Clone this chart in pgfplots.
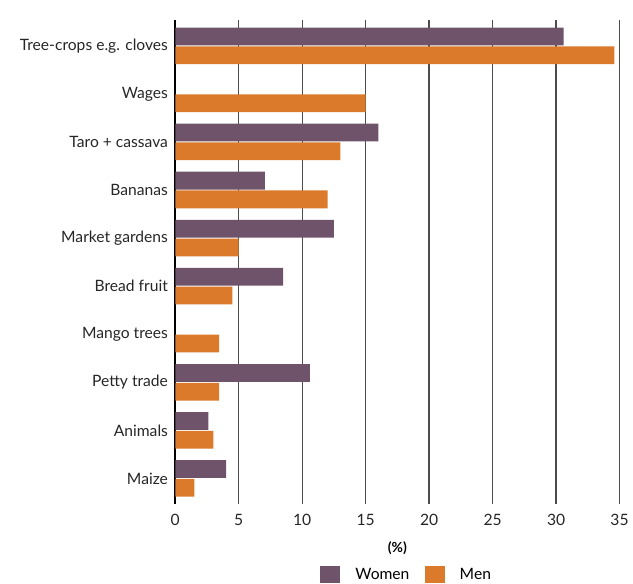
\documentclass[border=0pt]{standalone}
\usepackage{pgfplots}
\pgfplotsset{compat=1.18}
\usepackage{fontspec}
\setmainfont{Lato}
\definecolor{women}{HTML}{6F536B}
\definecolor{men}{HTML}{DA7A2A}
\begin{document}
\begin{tikzpicture}
\begin{axis}[
  name=a,
  scale only axis,
  width=335.6pt, height=366pt,
  xmin=0, xmax=35,
  ymin=-0.54, ymax=9.54,
  y dir=reverse,
  xbar,
  bar width=0.37,
  xtick={0,5,...,35},
  ytick={0,...,9},
  yticklabels={Tree-crops e.g. cloves,Wages,Taro + cassava,Bananas,Market gardens,Bread fruit,Mango trees,Petty trade,Animals,Maize},
  xmajorgrids,
  major grid style={black!70, line width=1pt},
  axis x line*=bottom,
  axis y line*=left,
  x axis line style={draw=none},
  y axis line style={black, line width=1.5pt},
  major tick length=0pt,
  tick style={draw=none},
  /pgf/number format/assume math mode=true,
  ticklabel style={font=\fontsize{11.8}{13}\selectfont, text=black!85},
  xticklabel style={yshift=-4pt},
  yticklabel style={xshift=-2pt},
  xlabel={\textbf{(\%)}},
  xlabel style={font=\fontsize{10.5}{12}\selectfont, yshift=-5pt},
  legend style={at={(0.5,-0.125)}, anchor=north, xshift=7pt, draw=none, inner sep=0pt, legend columns=2,
    font=\fontsize{11.8}{13}\selectfont, column sep=10pt, nodes={inner xsep=1.5pt}},
  legend image code/.code={\fill[#1] (0pt,-6.75pt) rectangle (15pt,6.75pt);},
]
\addplot[fill=women, draw=none, bar shift=-0.195] coordinates {
  (30.6,0) (16.0,2) (7.05,3) (12.5,4) (8.5,5) (10.6,7) (2.6,8) (4.0,9)};
\addplot[fill=men, draw=none, bar shift=0.195] coordinates {
  (34.6,0) (15.0,1) (13.0,2) (12.0,3) (5.0,4) (4.5,5) (3.45,6) (3.45,7) (3.0,8) (1.5,9)};
\legend{Women,Men}
\end{axis}
\path ([xshift=-132.4pt,yshift=-56.25pt]a.south west) rectangle ([xshift=6.75pt,yshift=15pt]a.north east);
\end{tikzpicture}
\end{document}
